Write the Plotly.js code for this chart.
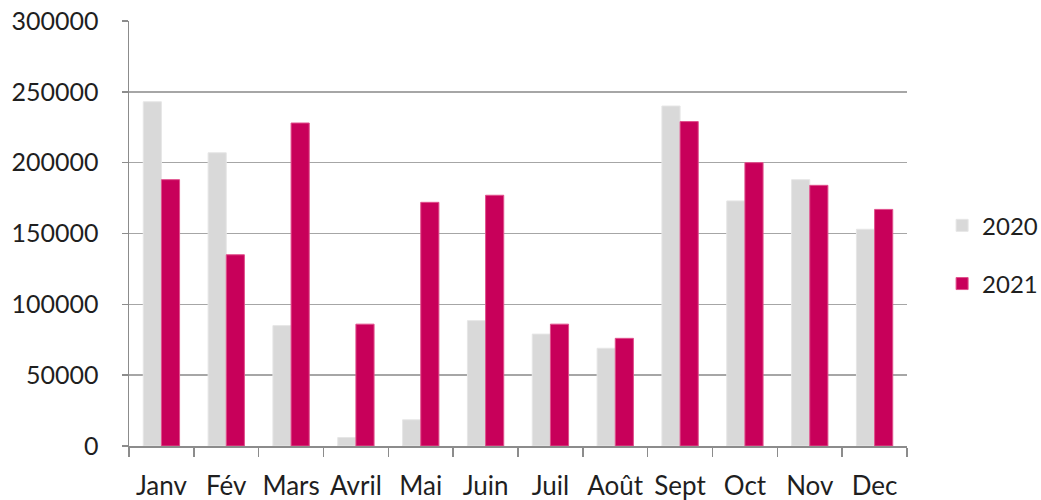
<!DOCTYPE html>
<html>
<head>
<meta charset="utf-8">
<script src="https://cdn.plot.ly/plotly-3.0.1.min.js"></script>
<style>html,body{margin:0;padding:0;background:#fff;}#chart{width:1041px;height:500px;}</style>
</head>
<body>
<div id="chart"></div>
<script>
const months = ["Janv","Fév","Mars","Avril","Mai","Juin","Juil","Août","Sept","Oct","Nov","Dec"];
const values2020 = [243000,207000,85000,6000,18500,88500,79000,69000,240000,173000,188000,153000];
const values2021 = [188000,135000,228000,86000,172000,177000,86000,76000,229000,200000,184000,167000];
const yTicks = [0,50000,100000,150000,200000,250000,300000];

const fontFam = "Lato, 'Open Sans', sans-serif";
const traces = [
  {type:"bar", name:"2020", x:months, y:values2020, legendgroup:"a",
   marker:{color:"#d9d9d9", line:{color:"#e6e6e6", width:1}}},
  {type:"bar", name:"2021", x:months, y:values2021, legendgroup:"b",
   marker:{color:"#c8005a", line:{color:"#e0508c", width:1}}}
];
const layout = {
  width:1041, height:500,
  margin:{l:129, r:134, t:21, b:54, pad:0, autoexpand:false},
  paper_bgcolor:"#fff", plot_bgcolor:"#fff",
  barmode:"group", bargap:0.44, bargroupgap:0,
  font:{family:fontFam, size:24, color:"#1f1f1f"},
  xaxis:{type:"category", tickson:"boundaries", ticks:"outside", ticklen:9, tickwidth:1.5,
         tickcolor:"#8c8c8c", showline:true, linecolor:"#8c8c8c", linewidth:1.5,
         showgrid:false, tickfont:{size:26}, tickangle:0, ticklabelstandoff:16, automargin:false},
  yaxis:{range:[0,300000], tickvals:yTicks, ticktext:yTicks.map(String), ticks:"outside",
         ticklen:6, tickwidth:1.5, tickcolor:"#8c8c8c", showline:true, linecolor:"#8c8c8c",
         linewidth:1.5, gridcolor:"#a6a6a6", gridwidth:1.5, zeroline:false,
         tickfont:{size:25}, ticklabelstandoff:18, automargin:false},
  legend:{xref:"container", x:0.905, xanchor:"left", y:0.45, yanchor:"middle", traceorder:"grouped",
          tracegroupgap:24, font:{size:24}, bgcolor:"rgba(0,0,0,0)"},
  showlegend:true
};
Plotly.newPlot("chart", traces, layout, {displayModeBar:false, staticPlot:true});
</script>
</body>
</html>
